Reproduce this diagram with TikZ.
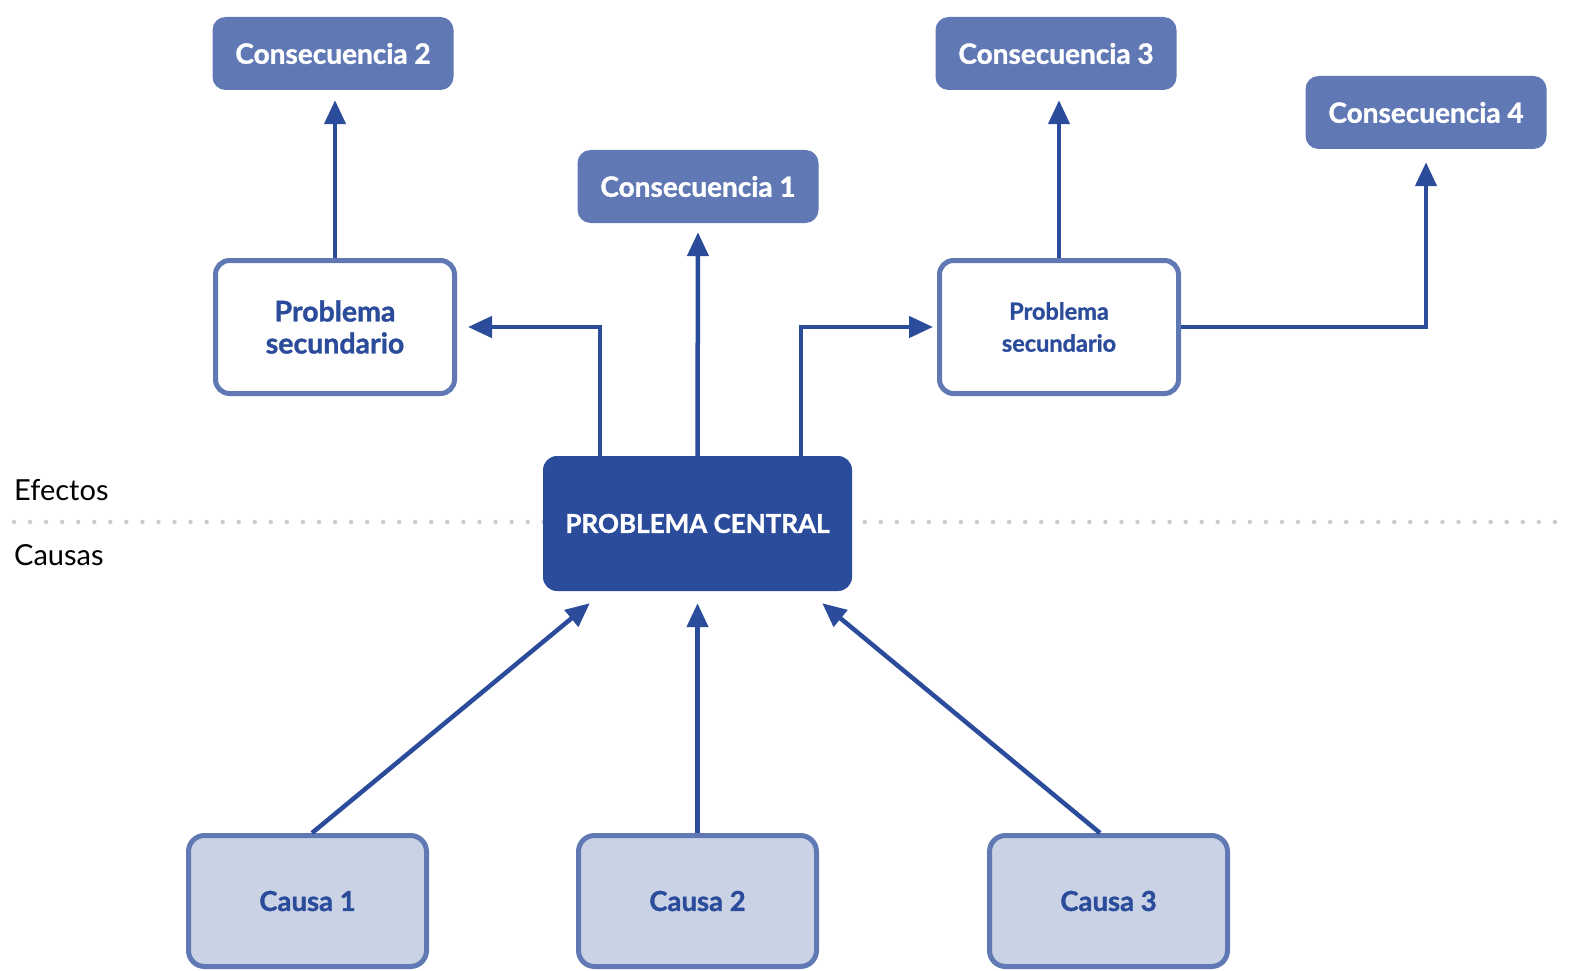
\documentclass[tikz,border=0pt]{standalone}
\usepackage{fontspec}
\setmainfont{Lato}[BoldFeatures={FakeBold=1.2}]
\usetikzlibrary{arrows.meta}
\definecolor{midblue}{HTML}{6079B5}
\definecolor{darkblue}{HTML}{2B4B9B}
\definecolor{lightblue}{HTML}{CAD3E6}
\definecolor{dotgrey}{HTML}{CCCCCC}
\tikzset{
  x=1pt, y=-1pt,
  consbox/.style={rectangle, rounded corners=13pt, fill=midblue, text=white, font=\bfseries\fontsize{28}{32}\selectfont, minimum width=241pt, minimum height=73pt, inner sep=0pt},
  secbox/.style={rectangle, rounded corners=14pt, draw=midblue, line width=5pt, fill=white, text=darkblue, align=center, minimum width=239pt, minimum height=133pt, inner sep=0pt},
  secbig/.style={secbox, font=\bfseries\fontsize{28.5}{32}\selectfont},
  secsmall/.style={secbox, font=\bfseries\fontsize{23.5}{32}\selectfont},
  centbox/.style={rectangle, rounded corners=14pt, fill=darkblue, text=white, font=\bfseries\fontsize{26}{30}\selectfont, minimum width=309pt, minimum height=135pt, inner sep=0pt},
  causebox/.style={rectangle, rounded corners=16pt, draw=midblue, line width=5pt, fill=lightblue, text=darkblue, font=\bfseries\fontsize{27.5}{30}\selectfont, minimum width=238pt, minimum height=131pt, inner sep=0pt},
  arr/.style={draw=darkblue, line width=4.5pt, -{Triangle[length=24pt,width=21pt]}},
  sidelabel/.style={anchor=base west, inner sep=0pt, font=\fontsize{29}{32}\selectfont, text=black},
}
\begin{document}
\begin{tikzpicture}
\useasboundingbox (0,0) rectangle (1572,971);
% dotted separator
\coordinate (dl) at (14,522);
\coordinate (dr) at (1556,522);
\draw[dotgrey, line width=4.5pt, line cap=round, dash pattern=on 0pt off 16.05pt] (dl) -- (dr);
\node[sidelabel] (efectos) at (14,500) {Efectos};
\node[sidelabel] (causas) at (14,565) {Causas};
% nodes
\node[consbox] (c2) at (333,53.5) {Consecuencia 2};
\node[consbox] (c1) at (698,186.5) {Consecuencia 1};
\node[consbox] (c3) at (1056,53.5) {Consecuencia 3};
\node[consbox] (c4) at (1426,112.5) {Consecuencia 4};
\node[secbig] (psl) at (335,327) {Problema\\secundario};
\node[secsmall] (psr) at (1059,327) {Problema\\secundario};
\node[centbox] (pc) at (697.5,523.5) {PROBLEMA CENTRAL};
\node[causebox] (ca1) at (307.5,901) {Causa 1};
\node[causebox] (ca2) at (697.5,901) {Causa 2};
\node[causebox] (ca3) at (1108.5,901) {Causa 3};
% effect arrows
\draw[arr, shorten >=11pt] ([xshift=-97.5pt]pc.north) |- (psl.east);
\draw[arr, shorten >=9pt] (pc.north) -- (c1.south);
\draw[arr, shorten >=4pt] ([xshift=103.5pt]pc.north) |- (psr.west);
\draw[arr, shorten >=10pt] (psl.north) -- (psl.north |- c2.south);
\draw[arr, shorten >=10pt] (psr.north) -- (psr.north |- c3.south);
\draw[arr, shorten >=13pt] (psr.east) -| (c4.south);
% cause arrows
\coordinate (t1) at ([xshift=47pt,yshift=-12pt]pc.south west);
\coordinate (t3) at ([xshift=-30pt,yshift=-12pt]pc.south east);
\draw[arr] ([xshift=4.5pt]ca1.north) -- (t1);
\draw[arr, shorten >=12pt] (ca2.north) -- (pc.south);
\draw[arr] ([xshift=-8.5pt]ca3.north) -- (t3);
\end{tikzpicture}
\end{document}
